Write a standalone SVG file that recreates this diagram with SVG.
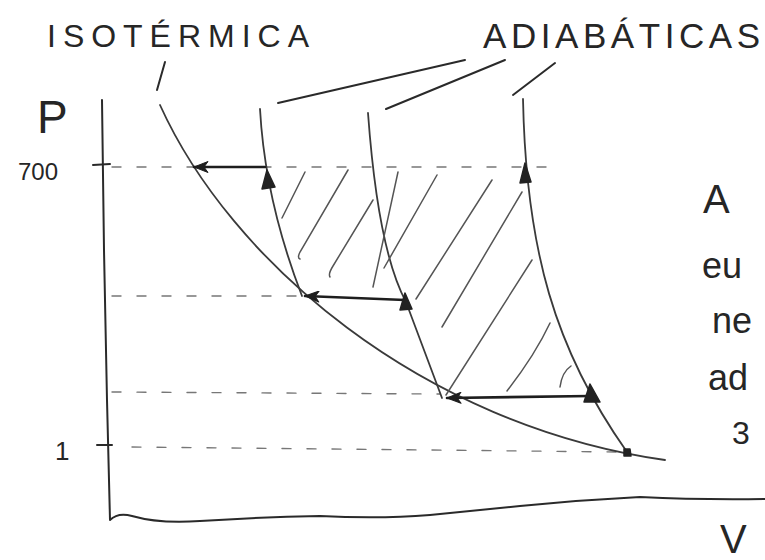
<svg xmlns="http://www.w3.org/2000/svg" width="765" height="560" viewBox="0 0 765 560">
<defs>
<style>
.ln{fill:none;stroke:#2a2a2a;stroke-width:2;stroke-linecap:round;stroke-linejoin:round}
.cv{fill:none;stroke:#3a3a3a;stroke-width:1.8;stroke-linecap:round}
.dash{fill:none;stroke:#777;stroke-width:1.4;stroke-dasharray:9 16;stroke-linecap:round}
.hatch{fill:none;stroke:#555;stroke-width:1.5;stroke-linecap:round}
.arr{fill:none;stroke:#1e1e1e;stroke-width:2.6;stroke-linecap:round}
.tri{fill:#222;stroke:#222;stroke-width:1.5;stroke-linejoin:round}
.t{font-family:"Liberation Sans","DejaVu Sans",sans-serif;fill:#262626}
</style>
<marker id="head" viewBox="0 0 16 12" refX="15" refY="6" markerWidth="16" markerHeight="12" markerUnits="userSpaceOnUse" orient="auto">
<path d="M15,6 L1,0.5 L5,6 L1,11.5 Z" fill="#1e1e1e" stroke="#1e1e1e" stroke-width="1" stroke-linejoin="round"/>
</marker>
</defs>
<rect width="765" height="560" fill="#ffffff"/>

<g id="axes">
<path class="ln" d="M102,100 L104,250 L107,400 L110,520 Q118,512 132,516 Q160,524 200,521 Q260,517 320,516 Q380,519 430,515 Q480,510 520,506 Q580,500 640,497 Q700,500 765,499"/>
<path class="ln" d="M93,165 L110,164"/>
<path class="ln" d="M97,445 L112,445"/>
<text class="t" x="37" y="133" font-size="46">P</text>
<text class="t" x="18" y="180" font-size="24">700</text>
<text class="t" x="55" y="460" font-size="26">1</text>
<text class="t" x="720" y="553" font-size="40">V</text>
</g>

<g id="guides">
<path class="dash" d="M112,167 L560,167"/>
<path class="dash" d="M112,296 L300,296"/>
<path class="dash" d="M112,392 L440,394"/>
<path class="dash" d="M132,447 L622,452"/>
</g>

<g id="isotermica">
<path class="cv" d="M160,105 C230,260 420,425 665,460"/>
<path class="ln" d="M165,62 L157,90"/>
<text class="t" x="47" y="47" font-size="32" textLength="262" lengthAdjust="spacing">ISOTÉRMICA</text>
</g>

<g id="adiabaticas">
<text class="t" x="483" y="48" font-size="35" textLength="277" lengthAdjust="spacing">ADIABÁTICAS</text>
<path class="ln" d="M278,103 L465,60"/>
<path class="ln" d="M386,109 L505,60"/>
<path class="ln" d="M513,95 L555,63"/>
</g>

<g id="adiabatica-1">
<path class="cv" d="M260,109 Q265,200 302,296"/>
</g>
<g id="adiabatica-2">
<path class="cv" d="M368,113 Q378,250 406,302 L442,398"/>
</g>
<g id="adiabatica-3">
<path class="cv" d="M523,99 C526,250 555,350 627,452"/>
</g>

<g id="hatching">
<path class="hatch" d="M282,218 L305,172"/>
<path class="hatch" d="M300,259 Q297,258 300,252 L348,170"/>
<path class="hatch" d="M330,277 Q328,274 333,266 L373,200"/>
<path class="hatch" d="M373,287 L398,172"/>
<path class="hatch" d="M384,268 L437,175"/>
<path class="hatch" d="M416,299 L492,180"/>
<path class="hatch" d="M442,327 L522,192"/>
<path class="hatch" d="M446,395 L532,260"/>
<path class="hatch" d="M507,391 Q535,355 550,323"/>
<path class="hatch" d="M560,387 Q562,372 571,366"/>
</g>

<g id="connectors">
<path class="arr" d="M265,167 L194,167" marker-end="url(#head)"/>
<path class="arr" d="M405,300 L305,296" marker-end="url(#head)"/>
<path class="arr" d="M590,396 L447,398" marker-end="url(#head)"/>
<path class="tri" d="M267,170 L262,189 L275,187 Z"/>
<path class="tri" d="M405,293 L400,310 L412,309 Z"/>
<path class="tri" d="M525,163 L520,183 L531,182 Z"/>
<path class="tri" d="M590,384 L584,402 L600,402 Z"/>
<path class="tri" d="M624,449 L630,449 L631,456 L624,456 Z"/>
</g>

<g id="nota">
<text class="t" x="703" y="213" font-size="40">A</text>
<text class="t" x="702" y="278" font-size="36">eu</text>
<text class="t" x="712" y="333" font-size="36">ne</text>
<text class="t" x="708" y="390" font-size="36">ad</text>
<text class="t" x="732" y="444" font-size="32">3</text>
</g>
</svg>
